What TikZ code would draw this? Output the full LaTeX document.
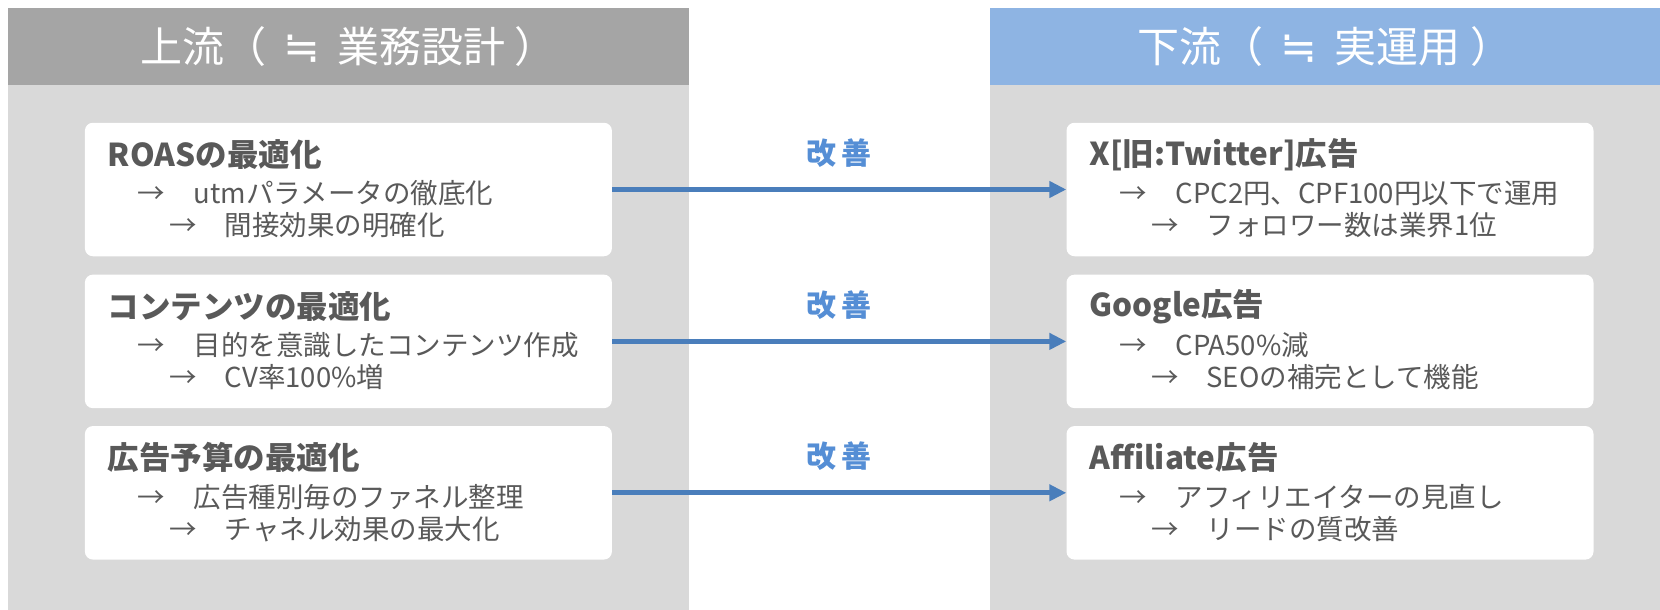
\documentclass[tikz,border=0pt]{standalone}
\usepackage{fontspec}
\setmainfont{Noto Sans CJK JP}
\newfontfamily\symbolfont{DejaVu Sans}
\usepackage{xcolor}
\usepackage{tikz}
\usetikzlibrary{arrows.meta, positioning, calc}

\definecolor{headgray}{HTML}{A5A5A5}
\definecolor{bodygray}{HTML}{D9D9D9}
\definecolor{headblue}{HTML}{8EB4E3}
\definecolor{textgray}{HTML}{595959}
\definecolor{linkblue}{HTML}{4A7EBB}
\definecolor{labelblue}{HTML}{558ED5}

\tikzstyle{header} = [rectangle, minimum width=681pt, minimum height=76.5pt, inner sep=0pt, text=white, font=\fontsize{42}{50}\selectfont]
\tikzstyle{card} = [rectangle, rounded corners=8pt, fill=white, minimum width=527pt, minimum height=133.5pt, inner sep=0pt]
\tikzstyle{cardtitle} = [anchor=west, inner sep=0pt, text=textgray, font=\bfseries\fontsize{31.5}{36}\selectfont]
\tikzstyle{cardline} = [anchor=west, inner sep=0pt, text=textgray, font=\fontsize{27.5}{32}\selectfont]
\tikzstyle{arrow} = [line width=5pt, draw=linkblue, ->, >={Triangle[length=17pt, width=16pt]}]
\tikzstyle{gain} = [above=16pt, text=labelblue, font=\bfseries\fontsize{30}{36}\selectfont]

% nearly-equal sign from a font that has it
\newcommand{\nearlyeq}{\hspace{17pt}{\symbolfont\fontsize{44}{50}\selectfont ≒}\hspace{17pt}}

% title and two arrow lines inside a card
\newcommand{\cardlines}[4]{%
  \node[cardtitle] (#1-t) at ($(#1.west)+(23,-35)$) {#2};
  \node[cardline] (#1-a) at ($(#1.west)+(53,4)$) {\makebox[56pt][l]{→}#3};
  \node[cardline] (#1-b) at ($(#1.west)+(85,36)$) {\makebox[55pt][l]{→}#4};
}

\begin{document}
\begin{tikzpicture}[x=1pt, y=-1pt]
  \useasboundingbox (0,0) rectangle (1660,610);

  % Panels
  \fill[bodygray] (8,85) rectangle (689,610);
  \fill[bodygray] (990,85) rectangle (1660,610);
  \node[header, fill=headgray] (uphead) at (348.5,46.75) {上流（\nearlyeq 業務設計 ）};
  \node[header, fill=headblue, minimum width=670pt] (downhead) at (1325,46.75) {下流（\nearlyeq 実運用 ）};

  % Upstream cards
  \node[card] (l1) at (348.4,189.5) {};
  \node[card] (l2) at (348.4,341.4) {};
  \node[card] (l3) at (348.4,492.8) {};
  \cardlines{l1}{ROASの最適化}{utmパラメータの徹底化}{間接効果の明確化}
  \cardlines{l2}{コンテンツの最適化}{目的を意識したコンテンツ作成}{CV率100\%増}
  \cardlines{l3}{広告予算の最適化}{広告種別毎のファネル整理}{チャネル効果の最大化}

  % Downstream cards
  \node[card] (r1) at (1330,189.5) {};
  \node[card] (r2) at (1330,341.4) {};
  \node[card] (r3) at (1330,492.8) {};
  \cardlines{r1}{X[旧:Twitter]広告}{CPC2円、CPF100円以下で運用}{フォロワー数は業界1位}
  \cardlines{r2}{Google広告}{CPA50\%減}{SEOの補完として機能}
  \cardlines{r3}{Affiliate広告}{アフィリエイターの見直し}{リードの質改善}

  % Improvement arrows
  \draw[arrow] (l1) -- node[gain] {改\hspace{5pt}善} (r1);
  \draw[arrow] (l2) -- node[gain] {改\hspace{5pt}善} (r2);
  \draw[arrow] (l3) -- node[gain] {改\hspace{5pt}善} (r3);
\end{tikzpicture}
\end{document}
